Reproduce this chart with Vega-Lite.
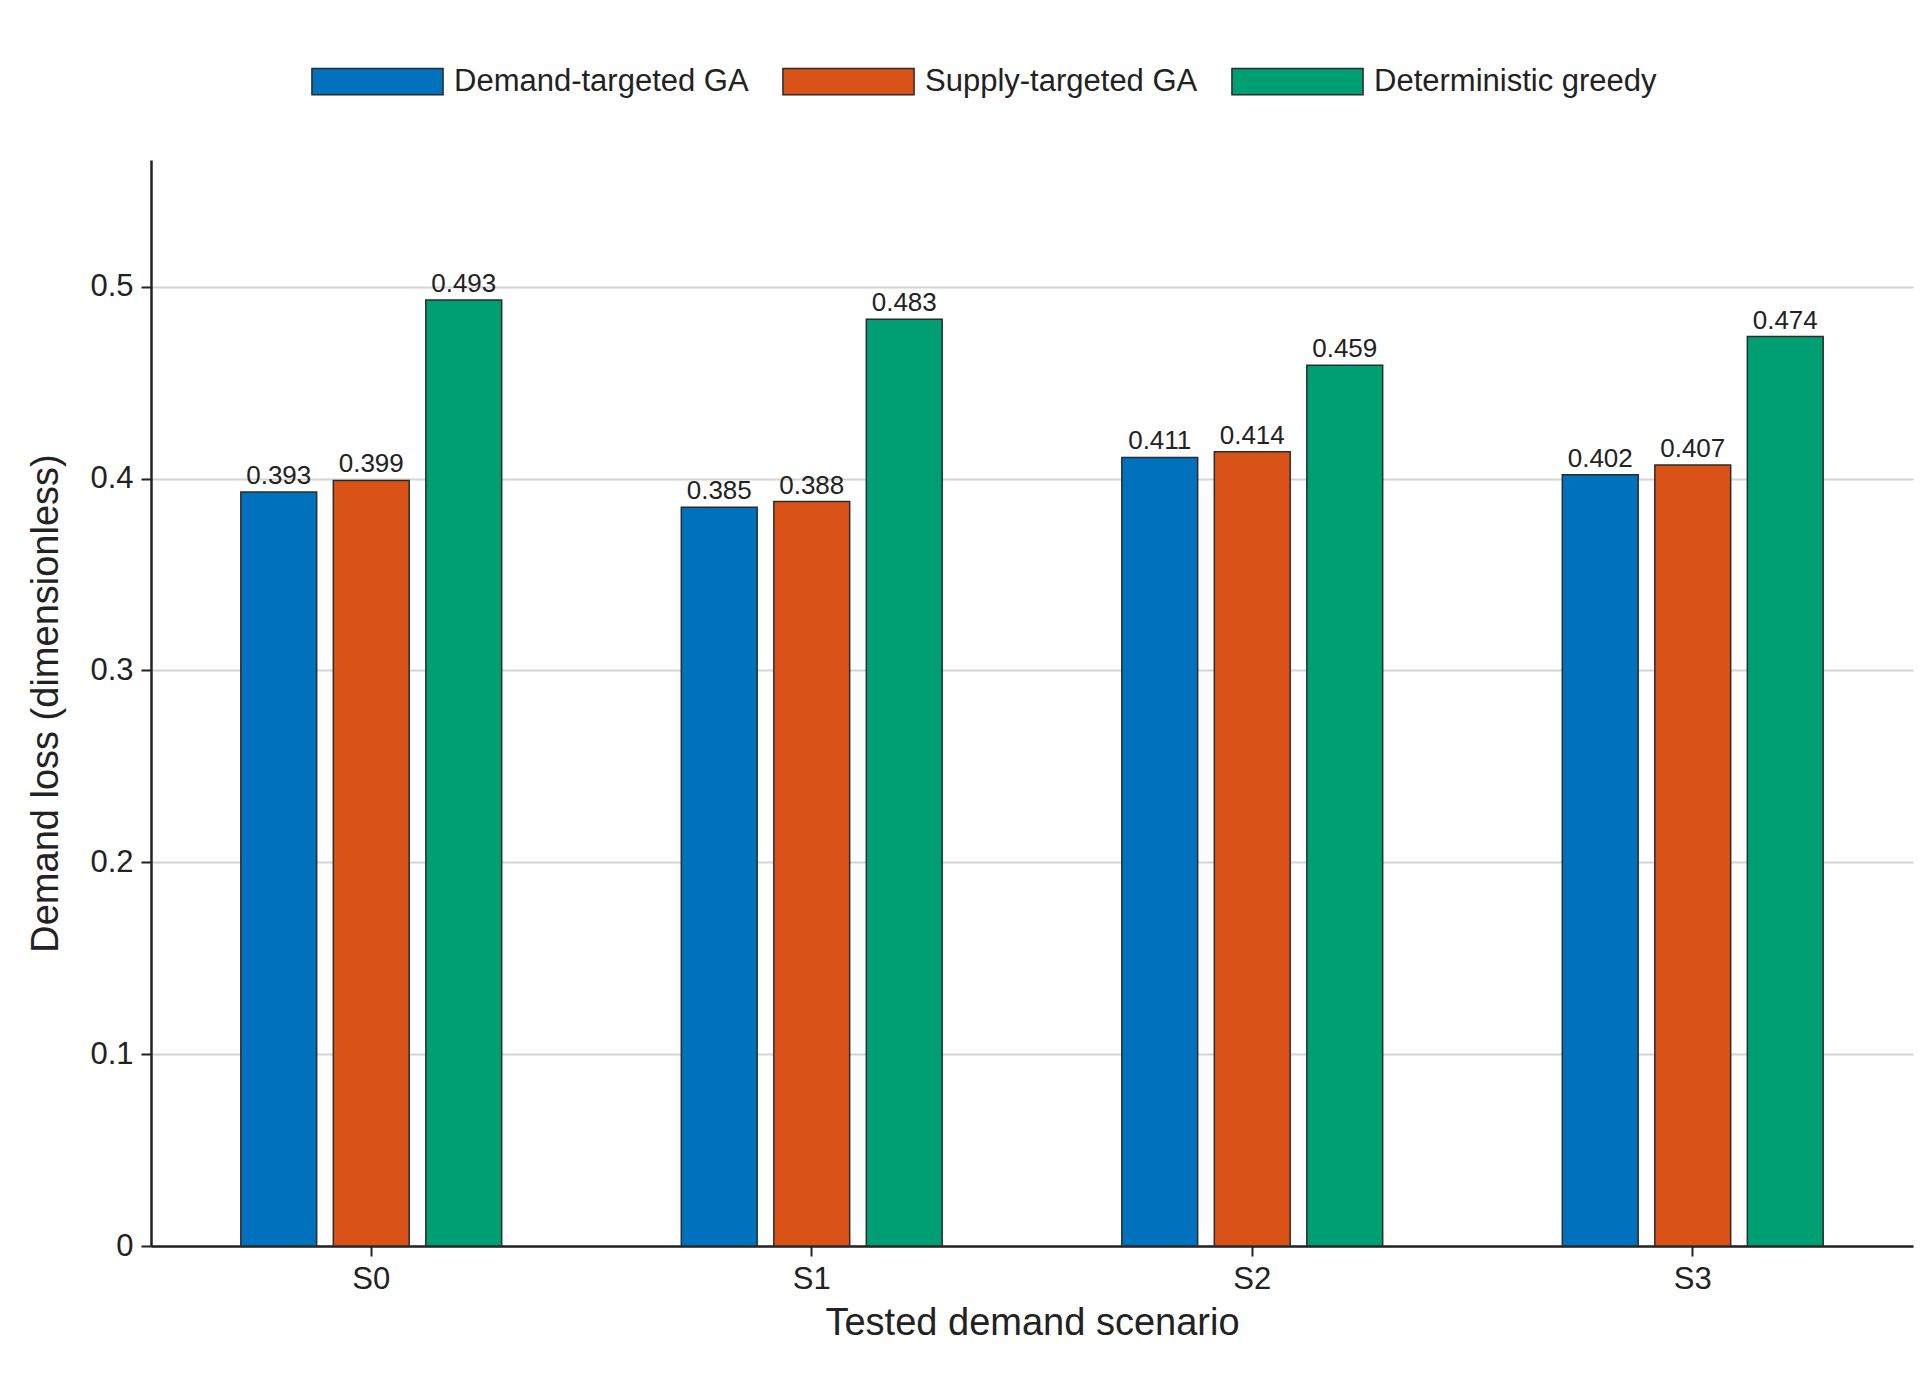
{
  "$schema": "https://vega.github.io/schema/vega-lite/v6.json",
  "width": 1762,
  "height": 1086,
  "autosize": {"type": "none"},
  "padding": {"left": 151, "top": 160, "right": 16, "bottom": 129},
  "background": "white",
  "title": {"text": "Demand loss across tested demand scenarios", "fontSize": 42, "fontWeight": "normal", "font": "Liberation Sans", "color": "#222", "frame": "group", "anchor": "middle", "offset": 16},
  "data": {
    "values": [
      {"scenario": "S0", "method": "Demand-targeted GA", "value": 0.393},
      {"scenario": "S0", "method": "Supply-targeted GA", "value": 0.399},
      {"scenario": "S0", "method": "Deterministic greedy", "value": 0.493},
      {"scenario": "S1", "method": "Demand-targeted GA", "value": 0.385},
      {"scenario": "S1", "method": "Supply-targeted GA", "value": 0.388},
      {"scenario": "S1", "method": "Deterministic greedy", "value": 0.483},
      {"scenario": "S2", "method": "Demand-targeted GA", "value": 0.411},
      {"scenario": "S2", "method": "Supply-targeted GA", "value": 0.414},
      {"scenario": "S2", "method": "Deterministic greedy", "value": 0.459},
      {"scenario": "S3", "method": "Demand-targeted GA", "value": 0.402},
      {"scenario": "S3", "method": "Supply-targeted GA", "value": 0.407},
      {"scenario": "S3", "method": "Deterministic greedy", "value": 0.474}
    ]
  },
  "encoding": {
    "x": {"field": "scenario", "type": "nominal", "title": "Tested demand scenario",
      "scale": {"paddingInner": 0.37, "paddingOuter": 0.185},
      "axis": {"labelAngle": 0, "grid": false, "ticks": true, "tickSize": 10, "labelPadding": 8, "titlePadding": 10}},
    "xOffset": {"field": "method", "type": "nominal", "sort": ["Demand-targeted GA", "Supply-targeted GA", "Deterministic greedy"], "scale": {"paddingInner": 0.18, "paddingOuter": 0.09}},
    "y": {"field": "value", "type": "quantitative", "title": "Demand loss (dimensionless)",
      "scale": {"domain": [0, 0.566], "nice": false},
      "axis": {"values": [0, 0.1, 0.2, 0.3, 0.4, 0.5], "format": "~g", "tickSize": 10, "labelPadding": 8, "titlePadding": 24}}
  },
  "layer": [
    {
      "mark": {"type": "bar", "stroke": "#2b2b2b", "strokeWidth": 1.5},
      "encoding": {
        "color": {"field": "method", "type": "nominal", "sort": ["Demand-targeted GA", "Supply-targeted GA", "Deterministic greedy"],
          "scale": {"range": ["#0072bd", "#d95319", "#009e73"]},
          "legend": {"orient": "none", "legendX": 160, "legendY": -145, "direction": "horizontal", "title": null,
            "symbolType": "M-1,-0.2H1V0.2H-1Z", "symbolSize": 17200, "symbolStrokeColor": "#2b2b2b", "symbolStrokeWidth": 1.5,
            "symbolOpacity": 1, "labelFontSize": 31, "labelFont": "Liberation Sans", "labelColor": "#222", "labelLimit": 0,
            "columnPadding": 30, "labelOffset": 10, "symbolOffset": 0}}
      }
    },
    {
      "mark": {"type": "text", "dy": -16, "fontSize": 26, "font": "Liberation Sans", "color": "#222"},
      "encoding": {"text": {"field": "value", "type": "quantitative", "format": ".3f"}}
    }
  ],
  "config": {
    "view": {"stroke": null},
    "axis": {"labelFontSize": 31, "titleFontSize": 38, "titleFontWeight": "normal", "labelFont": "Liberation Sans", "titleFont": "Liberation Sans",
      "labelColor": "#222", "titleColor": "#222", "domainColor": "#222", "tickColor": "#222", "domainWidth": 2.5, "tickWidth": 2, "gridColor": "#d4d4d4", "gridWidth": 2}
  }
}
